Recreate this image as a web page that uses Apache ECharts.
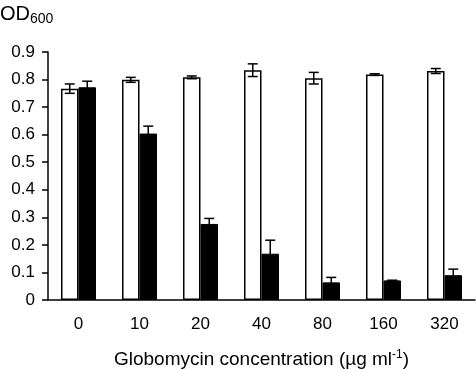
<!DOCTYPE html>
<html><head><meta charset="utf-8">
<script src="https://cdn.jsdelivr.net/npm/echarts@6/dist/echarts.min.js"></script>
<style>html,body{margin:0;padding:0;background:#fff}#c{width:476px;height:369px}</style>
</head><body><div id="c"></div>
<script>
const categories = ['0', '10', '20', '40', '80', '160', '320'];
const whiteValues = [0.767, 0.799, 0.808, 0.834, 0.805, 0.818, 0.831];
const whiteErrors = [0.017, 0.009, 0.005, 0.023, 0.021, 0.003, 0.009];
const blackValues = [0.772, 0.604, 0.276, 0.168, 0.064, 0.071, 0.090];
const blackErrors = [0.022, 0.027, 0.020, 0.049, 0.018, 0.000, 0.022];
const yTicks = [0, 0.1, 0.2, 0.3, 0.4, 0.5, 0.6, 0.7, 0.8, 0.9];

const FONT = 'Liberation Sans, Arial, sans-serif';
const BAR_W = 17.5;

function errSeries(values, errs, side, color) {
  return {
    type: 'custom',
    z: 5,
    data: values.map((v, i) => [i, v, errs[i]]),
    renderItem: function (params, api) {
      const i = api.value(0), v = api.value(1), e = api.value(2);
      const base = api.coord([i, v]);
      const x = base[0] + side * BAR_W / 2;
      const top = api.coord([i, v + e])[1];
      const bot = api.coord([i, v - e])[1];
      const cap = 5;
      const style = { stroke: color, lineWidth: 1.5, fill: null };
      return {
        type: 'group',
        children: [
          { type: 'line', shape: { x1: x, y1: top, x2: x, y2: bot }, style: style },
          { type: 'line', shape: { x1: x - cap, y1: top, x2: x + cap, y2: top }, style: style },
          { type: 'line', shape: { x1: x - cap, y1: bot, x2: x + cap, y2: bot }, style: style }
        ]
      };
    }
  };
}

const chart = echarts.init(document.getElementById('c'));
chart.setOption({
  animation: false,
  textStyle: { fontFamily: FONT, color: '#000' },
  title: {
    text: '{a|OD}{b|600}',
    left: 0, top: 2,
    padding: [0, 0, 0, 0],
    textStyle: {
      fontWeight: 'normal',
      rich: {
        a: { fontSize: 20, fontWeight: 'normal', fontFamily: FONT, color: '#000' },
        b: { fontSize: 14, fontWeight: 'normal', fontFamily: FONT, color: '#000', padding: [10, 0, 0, 0] }
      }
    }
  },
  grid: { left: 48, right: 1, top: 52, bottom: 69, containLabel: false, outerBoundsMode: 'none' },
  xAxis: {
    type: 'category',
    data: categories,
    axisLine: { lineStyle: { color: '#000', width: 1.5 } },
    axisTick: { show: false },
    axisLabel: { fontSize: 17, color: '#000', fontFamily: FONT, margin: 16 },
    name: '{n|Globomycin concentration (µg ml}{s|-1}{n|)}',
    nameLocation: 'middle',
    nameGap: 49,
    nameTextStyle: {
      rich: {
        n: { fontSize: 19, fontFamily: FONT, color: '#000' },
        s: { fontSize: 12, fontFamily: FONT, color: '#000', padding: [0, 0, 9, 0] }
      }
    }
  },
  yAxis: {
    type: 'value',
    min: 0, max: 0.9, interval: 0.1,
    axisLine: { show: true, lineStyle: { color: '#000', width: 1.5 } },
    axisTick: { show: true, length: 6, lineStyle: { color: '#000', width: 1.5 } },
    splitLine: { show: false },
    axisLabel: {
      fontSize: 17, color: '#000', fontFamily: FONT, margin: 13,
      formatter: function (v) {
        const t = yTicks.find(x => Math.abs(x - v) < 1e-6);
        return t === 0 ? '0' : (t !== undefined ? t.toFixed(1) : '');
      }
    }
  },
  series: [
    {
      type: 'bar', data: whiteValues, barWidth: BAR_W, barGap: '0%',
      itemStyle: { color: '#fff', borderColor: '#000', borderWidth: 1.5 }
    },
    {
      type: 'bar', data: blackValues, barWidth: BAR_W, barGap: '0%',
      itemStyle: { color: '#000', borderColor: '#000', borderWidth: 1 }
    },
    errSeries(whiteValues, whiteErrors, -1, '#000'),
    errSeries(blackValues, blackErrors, 1, '#000')
  ]
});
</script></body></html>
